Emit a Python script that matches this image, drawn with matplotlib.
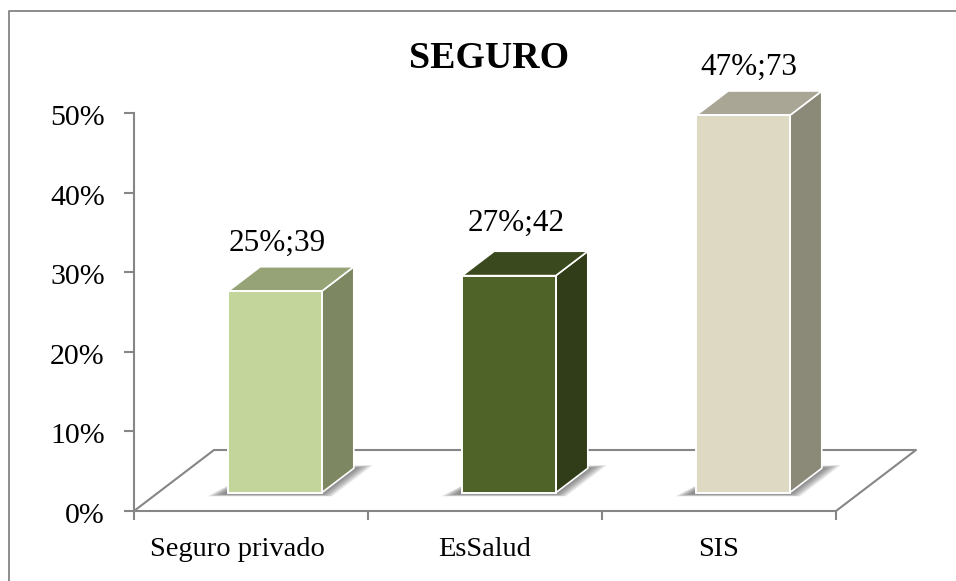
import matplotlib
matplotlib.use('Agg')
import matplotlib.pyplot as plt
from matplotlib.lines import Line2D
from matplotlib.transforms import ScaledTranslation

# Chart data
categories = ['Seguro privado', 'EsSalud', 'SIS']
percents = [0.2532, 0.2727, 0.4740]
counts = [39, 42, 73]
labels = ['25%;39', '27%;42', '47%;73']
y_ticks = [0, 0.1, 0.2, 0.3, 0.4, 0.5]
y_tick_labels = ['0%', '10%', '20%', '30%', '40%', '50%']

front_colors = ['#c4d59b', '#4f6228', '#ddd9c3']
top_colors = ['#96a377', '#3b4a1e', '#a9a695']
side_colors = ['#7d8862', '#313d18', '#8b8978']

W, H = 956, 581
AX_LEFT, AX_RIGHT = 134, 836
AX_TOP, AX_BOTTOM = 113, 511

# floor depth as a shear, in data units (xlim 0-3, ylim 0-0.5)
SHEAR_X = 80 / (AX_RIGHT - AX_LEFT) * 3
SHEAR_Y = 61 / (AX_BOTTOM - AX_TOP) * 0.5
BAR_WIDTH = 0.4
DEPTH_FRONT, DEPTH_BACK = 0.3, 0.7
GREY = '#868686'

# small nudges (points) for the text around the bars
label_nudge = [(1.5, 34.5), (5, 38), (4.5, 34.5)]
category_nudge = [-9.5, 0, 0]


def project(x, y, d):
    return x + d * SHEAR_X, y + d * SHEAR_Y


def quad(ax, points, **kwargs):
    xs = [project(*p)[0] for p in points]
    ys = [project(*p)[1] for p in points]
    ax.fill(xs, ys, clip_on=False, **kwargs)


plt.rcParams['font.family'] = ['Liberation Serif', 'DejaVu Serif']

fig = plt.figure(figsize=(W / 100, H / 100), dpi=100)
fig.patch.set_facecolor('white')
ax = fig.add_axes([AX_LEFT / W, 1 - AX_BOTTOM / H, (AX_RIGHT - AX_LEFT) / W, (AX_BOTTOM - AX_TOP) / H])
ax.set_xlim(0, 3)
ax.set_ylim(0, 0.5)
ax.patch.set_alpha(0)

# Outer frame, only top and left fall inside the picture
fig.add_artist(Line2D([8.5 / W, 8.5 / W, 1], [0, 1 - 10.5 / H, 1 - 10.5 / H],
                      transform=fig.transFigure, color='#8c8c8c', linewidth=1.4))

# Axes and floor
for side in ['top', 'right']:
    ax.spines[side].set_visible(False)
for side in ['left', 'bottom']:
    ax.spines[side].set_color(GREY)
    ax.spines[side].set_linewidth(1.5)

ax.set_yticks(y_ticks)
ax.set_yticklabels(y_tick_labels)
ax.set_xticks([0, 1, 2, 3])
ax.set_xticklabels([])
ax.tick_params(axis='y', labelsize=21.5, length=7, width=1.5, color=GREY, pad=14)
ax.tick_params(axis='x', which='major', length=6.5, width=1.5, color=GREY)

# y labels sit a little below their ticks in the original
for tick_label in ax.get_yticklabels():
    tick_label.set_transform(tick_label.get_transform() + ScaledTranslation(0, -1.5 / 72, fig.dpi_scale_trans))

for i, name in enumerate(categories):
    ax.annotate(name, (i + 0.5, 0), xytext=(category_nudge[i], -28), textcoords='offset points',
                ha='center', va='center', fontsize=20.5, color='black', annotation_clip=False)

floor = [(0, 0, 0), (0, 0, 1), (3, 0, 1), (3, 0, 0)]
ax.plot([project(*p)[0] for p in floor], [project(*p)[1] for p in floor],
        color=GREY, linewidth=1.5, clip_on=False, zorder=1)

# Bars, drawn as three faces each
for i, value in enumerate(percents):
    x0 = i + 0.5 - BAR_WIDTH / 2
    x1 = i + 0.5 + BAR_WIDTH / 2

    # soft shadow on the floor, stacked layers shrinking towards the bar
    for k in range(14):
        grow = 0.0055 * k
        quad(ax, [(x0 - 0.07 + grow, 0, DEPTH_FRONT - 0.06 + 0.0035 * k),
                  (x1 + 0.065 - grow, 0, DEPTH_FRONT - 0.06 + 0.0035 * k),
                  (x1 + 0.065 - grow, 0, DEPTH_BACK + 0.055 - 0.005 * k),
                  (x0, 0, DEPTH_BACK)],
             facecolor='#404040', alpha=0.075, edgecolor='none', zorder=1.5)

    quad(ax, [(x1, 0, DEPTH_FRONT), (x1, 0, DEPTH_BACK), (x1, value, DEPTH_BACK), (x1, value, DEPTH_FRONT)],
         facecolor=side_colors[i], edgecolor='white', linewidth=1.2, zorder=2)
    quad(ax, [(x0, value, DEPTH_FRONT), (x1, value, DEPTH_FRONT), (x1, value, DEPTH_BACK), (x0, value, DEPTH_BACK)],
         facecolor=top_colors[i], edgecolor='white', linewidth=1.2, zorder=2)
    quad(ax, [(x0, 0, DEPTH_FRONT), (x1, 0, DEPTH_FRONT), (x1, value, DEPTH_FRONT), (x0, value, DEPTH_FRONT)],
         facecolor=front_colors[i], edgecolor='white', linewidth=1.4, zorder=3)

    tx, ty = project(i + 0.5, value, DEPTH_FRONT)
    ax.annotate(labels[i], (tx, ty), xytext=label_nudge[i], textcoords='offset points',
                ha='center', va='center', fontsize=22.5, color='black', annotation_clip=False)

fig.text(489.5 / W, 1 - 59 / H, 'SEGURO', fontsize=27.3, fontweight='bold', ha='center', va='center', color='black')

fig.savefig('out.png', dpi=100)
